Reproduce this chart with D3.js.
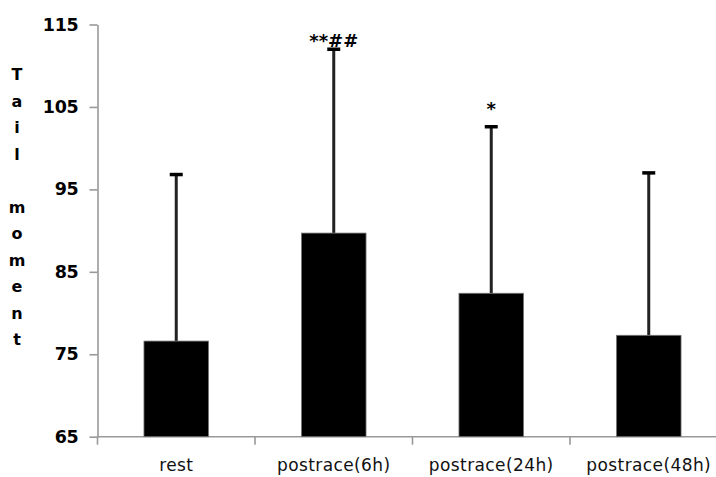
<!DOCTYPE html>
<html>
<head>
<meta charset="utf-8">
<script src="https://cdn.jsdelivr.net/npm/d3@7"></script>
<style>
  html, body { margin: 0; padding: 0; background: #fff; }
  svg { display: block; }
</style>
</head>
<body>
<svg id="chart" width="716" height="477"></svg>
<script>
const categories = ["rest", "postrace(6h)", "postrace(24h)", "postrace(48h)"];
const means = [76.6, 89.7, 82.4, 77.3];
const errorTops = [96.8, 112.0, 102.6, 97.0];
const significance = ["", "**##", "*", ""];
const yTicks = [65, 75, 85, 95, 105, 115];
const yTitle = "Tail moment";

const svg = d3.select("#chart");
const font = "'DejaVu Sans', 'Liberation Sans', sans-serif";

const x = d3.scaleBand()
  .domain(categories)
  .range([97.5, 727.5])
  .paddingInner(0.59)
  .paddingOuter(0.295);

const y = d3.scaleLinear().domain([65, 115]).range([436.7, 24.5]);

const axisColor = "#999";

// Y axis
const yAxis = svg.append("g")
  .attr("transform", "translate(97.5,0)")
  .call(d3.axisLeft(y).tickValues(yTicks).tickSize(8).tickSizeOuter(0).tickPadding(11));
yAxis.select(".domain").attr("stroke", axisColor).attr("stroke-width", 1.6);
yAxis.selectAll(".tick line").attr("stroke", axisColor).attr("stroke-width", 1.6);
yAxis.selectAll(".tick text")
  .attr("fill", "#000")
  .style("font-family", font)
  .style("font-size", "17.5px")
  .style("font-weight", "bold")
  .style("letter-spacing", "-0.3px");
// small extension of the y axis below the x axis
yAxis.append("line")
  .attr("x1", 0).attr("x2", 0)
  .attr("y1", y(65)).attr("y2", y(65) + 8)
  .attr("stroke", axisColor).attr("stroke-width", 1.6);

// X axis
const xStep = x.step();
const xAxis = svg.append("g")
  .attr("transform", "translate(0,436.7)");
xAxis.append("line")
  .attr("x1", 97.5).attr("x2", 716)
  .attr("stroke", axisColor).attr("stroke-width", 1.6);
const boundaries = [1, 2, 3].map(i => x(categories[0]) - x.step() * x.paddingOuter() + i * xStep);
xAxis.selectAll(".bt").data(boundaries).enter().append("line")
  .attr("x1", d => d).attr("x2", d => d)
  .attr("y1", 0).attr("y2", 8)
  .attr("stroke", axisColor).attr("stroke-width", 1.6);
xAxis.selectAll(".cl").data(categories).enter().append("text")
  .attr("x", d => x(d) + x.bandwidth() / 2)
  .attr("y", 34)
  .attr("text-anchor", "middle")
  .style("font-family", font)
  .style("font-size", "17px")
  .style("letter-spacing", "0.4px")
  .attr("fill", "#111")
  .text(d => d);

// Error bars
const eb = svg.append("g");
categories.forEach((c, i) => {
  const cx = x(c) + x.bandwidth() / 2;
  eb.append("line")
    .attr("x1", cx).attr("x2", cx)
    .attr("y1", y(means[i])).attr("y2", y(errorTops[i]))
    .attr("stroke", "#222").attr("stroke-width", 3);
  eb.append("line")
    .attr("x1", cx - 6.5).attr("x2", cx + 6.5)
    .attr("y1", y(errorTops[i])).attr("y2", y(errorTops[i]))
    .attr("stroke", "#000").attr("stroke-width", 3.5);
});

// Bars
svg.append("g").selectAll("rect").data(categories).enter().append("rect")
  .attr("x", d => x(d))
  .attr("width", x.bandwidth())
  .attr("y", (d, i) => y(means[i]))
  .attr("height", (d, i) => y(65) - y(means[i]))
  .attr("fill", "#000")
  .attr("stroke", "#777")
  .attr("stroke-width", 0.8);

// Significance marks
svg.append("g").selectAll("text").data(categories).enter().append("text")
  .attr("x", (d, i) => x(d) + x.bandwidth() / 2)
  .attr("y", (d, i) => y(errorTops[i]) - (significance[i].includes("#") ? 2 : 12))
  .attr("text-anchor", "middle")
  .style("font-family", font)
  .style("font-size", "18px")
  .style("font-weight", "bold")
  .attr("fill", "#000")
  .text((d, i) => significance[i]);

// Y title, letters stacked vertically
const letters = yTitle.split("");
svg.append("g").selectAll("text").data(letters).enter().append("text")
  .attr("x", 17)
  .attr("y", (d, i) => 80 + i * 26.5)
  .attr("text-anchor", "middle")
  .style("font-family", font)
  .style("font-size", "16px")
  .style("font-weight", "bold")
  .attr("fill", "#000")
  .text(d => d);
</script>
</body>
</html>
